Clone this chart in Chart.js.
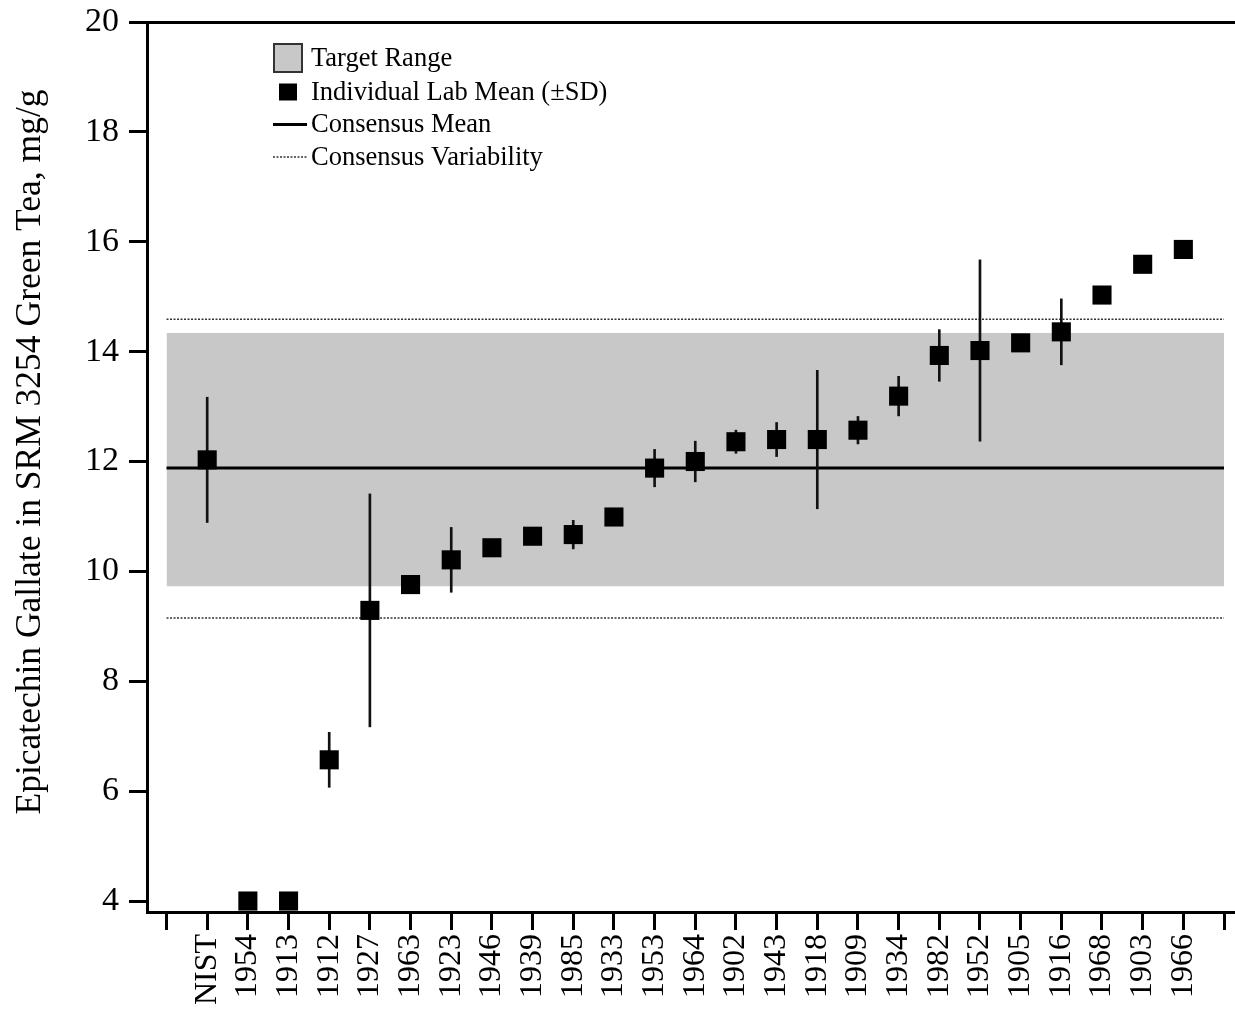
<!DOCTYPE html>
<html>
<head>
<meta charset="utf-8">
<script src="https://cdn.jsdelivr.net/npm/chart.js@4.4.1/dist/chart.umd.min.js"></script>
<style>
  html, body { margin: 0; padding: 0; background: #fff; }
  canvas { display: block; }
</style>
</head>
<body>
<canvas id="chart" width="1235" height="1009"></canvas>
<script>
// Laboratory codes, in plotting order
const labs = ['NIST','1954','1913','1912','1927','1963','1923','1946','1939','1985','1933','1953',
              '1964','1902','1943','1918','1909','1934','1982','1952','1905','1916','1968','1903','1966'];
// Individual lab means, mg/g
const labMeans = [12.03, 4.0, 4.0, 6.57, 9.29, 9.76, 10.21, 10.43, 10.64, 10.67, 10.99, 11.88,
                  12.00, 12.36, 12.40, 12.40, 12.57, 13.19, 13.93, 14.02, 14.16, 14.36, 15.03, 15.59, 15.86];
// Within-lab standard deviations (null = not reported)
const labSD = [1.14, null, null, 0.50, 2.12, null, 0.59, null, null, 0.26, null, 0.34,
               0.37, 0.21, 0.31, 1.26, 0.25, 0.36, 0.47, 1.65, null, 0.60, null, null, null];
// Consensus statistics
const consensusMean = 11.88;
const targetRange = [9.73, 14.34];
const consensusVariability = [9.15, 14.59];
// Axis ticks
const yTicks = [4, 6, 8, 10, 12, 14, 16, 18, 20];
const legendLabels = ['Target Range', 'Individual Lab Mean (\u00B1SD)', 'Consensus Mean', 'Consensus Variability'];
const yTitle = 'Epicatechin Gallate in SRM 3254 Green Tea, mg/g';

const SERIF = '"Liberation Serif", "Times New Roman", serif';
const xFirst = -1, xLast = labs.length;               // outer tick positions
const xTickVals = [];
for (let v = xFirst; v <= xLast; v++) xTickVals.push(v);

const span = (y) => [{ x: xFirst, y }, { x: xLast, y }];

const points = labMeans.map((m, i) => ({ x: i, y: m }));
const errorBars = [];
labMeans.forEach((m, i) => {
  if (labSD[i] != null) errorBars.push({ x: i, y: [m - labSD[i], m + labSD[i]] });
});

// Key inside the plot area (upper left) and the vertical axis title
const annotationPlugin = {
  id: 'key',
  afterDraw(chart) {
    const ctx = chart.ctx;
    const area = chart.chartArea;
    const rows = [58, 92, 124.5, 157];
    const sx = 273, tx = 311;
    ctx.save();
    // target range swatch
    ctx.fillStyle = '#c8c8c8';
    ctx.fillRect(sx + 1, rows[0] - 14, 28, 28);
    ctx.strokeStyle = '#333';
    ctx.lineWidth = 2;
    ctx.strokeRect(sx + 1, rows[0] - 14, 28, 28);
    // lab mean swatch
    ctx.fillStyle = '#000';
    ctx.fillRect(sx + 6, rows[1] - 8.5, 18, 17);
    // consensus mean
    ctx.strokeStyle = '#000';
    ctx.lineWidth = 3;
    ctx.beginPath(); ctx.moveTo(sx, rows[2]); ctx.lineTo(sx + 34, rows[2]); ctx.stroke();
    // consensus variability
    ctx.strokeStyle = '#333';
    ctx.lineWidth = 1.5;
    ctx.setLineDash([2, 1.5]);
    ctx.beginPath(); ctx.moveTo(sx, rows[3]); ctx.lineTo(sx + 34, rows[3]); ctx.stroke();
    ctx.setLineDash([]);
    // labels
    ctx.fillStyle = '#000';
    ctx.font = '26.5px ' + SERIF;
    ctx.textBaseline = 'middle';
    ctx.textAlign = 'left';
    legendLabels.forEach((t, i) => ctx.fillText(t, tx, rows[i] + 1));
    // y axis title
    ctx.translate(31, (area.top + area.bottom) / 2 - 15);
    ctx.rotate(-Math.PI / 2);
    ctx.textAlign = 'center';
    ctx.font = '35.5px ' + SERIF;
    ctx.fillText(yTitle, 0, 0);
    ctx.restore();
  }
};

new Chart(document.getElementById('chart'), {
  type: 'scatter',
  data: {
    datasets: [
      {
        type: 'scatter', label: legendLabels[1], data: points,
        pointStyle: 'rect', pointRadius: 13.5, pointBackgroundColor: '#000',
        pointBorderWidth: 0, borderWidth: 0, order: 0
      },
      {
        type: 'bar', label: 'SD', data: errorBars,
        backgroundColor: '#111', borderWidth: 0, barThickness: 2, order: 1
      },
      {
        type: 'line', label: legendLabels[2], data: span(consensusMean),
        borderColor: '#000', borderWidth: 3, pointRadius: 0, fill: false, order: 2
      },
      {
        type: 'line', label: legendLabels[3], data: span(consensusVariability[1]),
        borderColor: '#333', borderWidth: 1.5, borderDash: [2, 1.5], pointRadius: 0, fill: false, order: 3
      },
      {
        type: 'line', label: legendLabels[3] + ' (low)', data: span(consensusVariability[0]),
        borderColor: '#333', borderWidth: 1.5, borderDash: [2, 1.5], pointRadius: 0, fill: false, order: 3
      },
      {
        type: 'line', label: legendLabels[0], data: span(targetRange[1]),
        borderColor: 'rgba(0,0,0,0)', borderWidth: 1, pointRadius: 0,
        fill: { value: targetRange[0] }, backgroundColor: '#c8c8c8', order: 4
      }
    ]
  },
  options: {
    responsive: false,
    devicePixelRatio: 1,
    animation: false,
    events: [],
    layout: { autoPadding: false, padding: { top: 22, right: 0, bottom: 0, left: 0 } },
    plugins: { legend: { display: false }, tooltip: { enabled: false } },
    scales: {
      x: {
        type: 'linear',
        min: -1.48, max: 25.27,
        offset: false,
        afterBuildTicks: (s) => { s.ticks = xTickVals.map(v => ({ value: v })); },
        afterFit: (s) => { s.height = 97; s.paddingLeft = 0; s.paddingRight = 0; },
        border: { display: true, color: '#000', width: 3 },
        grid: { display: true, drawOnChartArea: false, drawTicks: true, tickLength: 18,
                tickColor: '#000', tickWidth: 3, offset: false },
        ticks: {
          autoSkip: false, maxRotation: 90, minRotation: 90, padding: 4,
          color: '#000', font: { family: SERIF, size: 32 },
          callback: (v) => (Number.isInteger(v) && v >= 0 && v < labs.length) ? labs[v] : ''
        }
      },
      y: {
        type: 'linear',
        min: 3.8, max: 20,
        afterBuildTicks: (s) => { s.ticks = yTicks.map(v => ({ value: v })); },
        afterFit: (s) => { s.width = 147; s.paddingTop = 0; s.paddingBottom = 0; },
        border: { display: true, color: '#000', width: 3 },
        grid: {
          display: true, drawOnChartArea: true, drawTicks: true, tickLength: 18,
          color: (c) => (c.tick && c.tick.value === yTicks[yTicks.length - 1]) ? '#000' : 'rgba(0,0,0,0)',
          lineWidth: 3, tickColor: '#000', tickWidth: 3
        },
        ticks: { color: '#000', padding: 10, font: { family: SERIF, size: 34 } },
        title: { display: false }
      }
    }
  },
  plugins: [annotationPlugin]
});
</script>
</body>
</html>
